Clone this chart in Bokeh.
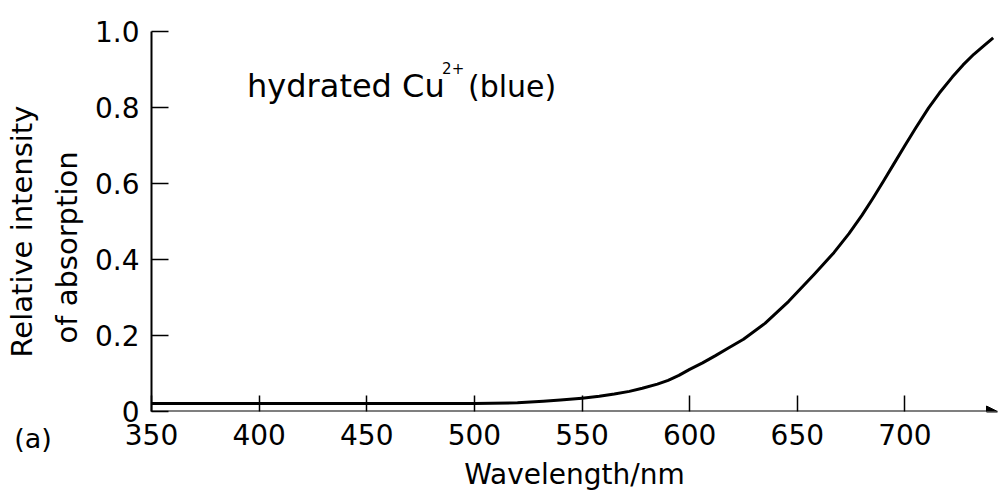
from bokeh.plotting import figure
from bokeh.models import FixedTicker, Label, Arrow, NormalHead, Title
from bokeh.embed import file_html
from bokeh.resources import INLINE

# ---- data ----
wavelength = [350, 400, 450, 500, 520, 532, 540, 550, 558, 565, 572, 578, 585,
              590, 595, 600, 606, 612, 618, 625, 635, 646, 658, 667, 674, 680,
              685, 690, 695, 700, 705, 711, 716, 722, 727, 732, 737, 741]
absorption = [0.021, 0.021, 0.021, 0.021, 0.023, 0.027, 0.030, 0.035, 0.040,
              0.046, 0.053, 0.061, 0.072, 0.082, 0.095, 0.111, 0.128, 0.147,
              0.167, 0.190, 0.232, 0.290, 0.362, 0.418, 0.468, 0.516, 0.560,
              0.606, 0.653, 0.700, 0.746, 0.799, 0.838, 0.880, 0.912, 0.940,
              0.964, 0.983]

x_ticks = [350, 400, 450, 500, 550, 600, 650, 700]
y_ticks = [0, 0.2, 0.4, 0.6, 0.8, 1.0]
y_tick_labels = ["0", "0.2", "0.4", "0.6", "0.8", "1.0"]

FONT = "DejaVu Sans"

p = figure(width=999, height=494, output_backend="svg", toolbar_location=None,
           x_range=(350, 743), y_range=(0, 1.0),
           min_border_left=147, min_border_right=2, min_border_top=30,
           min_border_bottom=83)
p.outline_line_color = None
p.grid.grid_line_color = None
p.background_fill_color = "white"
p.border_fill_color = "white"

# curve
p.line(wavelength, absorption, line_color="black", line_width=3, line_join="round")

# x axis
xa = p.xaxis[0]
xa.ticker = FixedTicker(ticks=x_ticks)
xa.axis_line_color = None
xa.major_tick_in = 16
xa.major_tick_out = 0
xa.major_tick_line_width = 1.5
xa.minor_tick_line_color = None
xa.major_label_text_font = FONT
xa.major_label_text_font_size = "28px"
xa.major_label_text_color = "black"
xa.major_label_standoff = 12
xa.axis_label = "Wavelength/nm"
xa.axis_label_text_font = FONT
xa.axis_label_text_font_size = "28px"
xa.axis_label_text_font_style = "normal"
xa.axis_label_text_color = "black"
xa.axis_label_standoff = 10

# y axis
ya = p.yaxis[0]
ya.ticker = FixedTicker(ticks=y_ticks)
ya.major_label_overrides = {t: l for t, l in zip(y_ticks, y_tick_labels)}
ya.axis_line_width = 2
ya.axis_line_color = "black"
ya.major_tick_in = 17
ya.major_tick_out = 0
ya.major_tick_line_width = 1.5
ya.minor_tick_line_color = None
ya.major_label_text_font = FONT
ya.major_label_text_font_size = "28px"
ya.major_label_text_color = "black"
ya.major_label_standoff = 12

# x axis line with arrow head
p.add_layout(Arrow(x_start=350, y_start=0, x_end=743, y_end=0,
                   line_color="black", line_width=2,
                   end=NormalHead(size=11, fill_color="black", line_color="black")))

# y axis title (two lines), as titles in the left panel
p.add_layout(Title(text="of absorption", align="left", offset=68, standoff=15,
                   text_font=FONT, text_font_size="29px", text_font_style="normal",
                   text_color="black"), "left")
p.add_layout(Title(text="Relative intensity", align="left", offset=54, standoff=4,
                   text_font=FONT, text_font_size="29px", text_font_style="normal",
                   text_color="black"), "left")

# panel letter, placed in the upper side panel (fits in the top border) so it
# is not clipped to the frame; its position is still given in data units
p.add_layout(Label(x=286.2, y=-0.070, text="(a)", text_align="left",
                   text_baseline="alphabetic", text_font=FONT,
                   text_font_size="27px", text_color="black"), "above")

# annotation text
p.add_layout(Label(x=394.4, y=0.856, text="hydrated Cu", text_align="left",
                   text_baseline="alphabetic", text_font=FONT,
                   text_font_size="32px", text_color="black"))
p.add_layout(Label(x=485.0, y=0.904, text="2+", text_align="left",
                   text_baseline="alphabetic", text_font=FONT,
                   text_font_size="15px", text_color="black"))
p.add_layout(Label(x=497.0, y=0.856, text="(blue)", text_align="left",
                   text_baseline="alphabetic", text_font=FONT,
                   text_font_size="30px", text_color="black"))

open("out.html", "w").write(file_html(p, INLINE))
